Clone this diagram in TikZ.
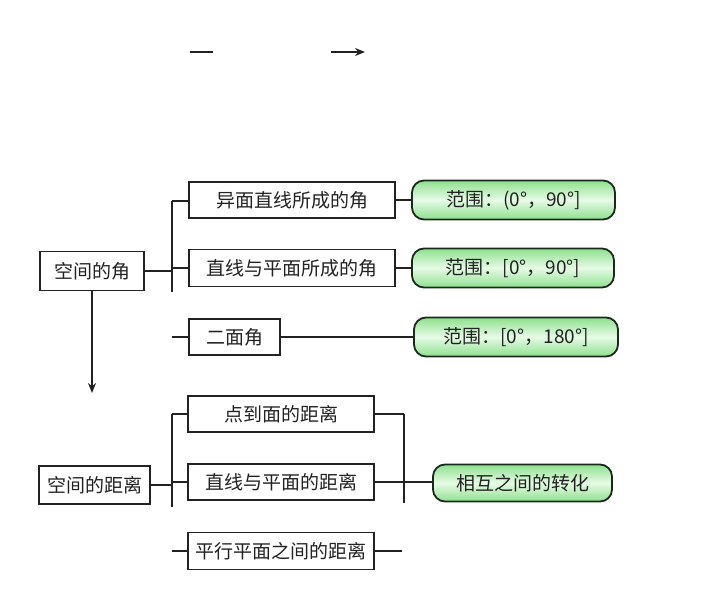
\documentclass[tikz,border=0pt]{standalone}
\usepackage{fontspec}
\usepackage{xcolor}
\usepackage{tikz}
\usetikzlibrary{arrows.meta}
\newfontfamily\cjk{Noto Sans CJK SC}
\definecolor{ink}{HTML}{222222}
\definecolor{edge}{HTML}{1A2A1A}
\definecolor{leaf}{HTML}{8EE08E}
\definecolor{leaflt}{HTML}{E6FBE6}
\tikzset{
  link/.style={draw=ink, line width=1.5pt},
  box/.style={draw=ink, line width=1.2pt, fill=white, inner sep=0pt,
    minimum height=36pt, font=\cjk\fontsize{19}{19}\selectfont, text=ink},
  rng/.style={draw=edge, line width=1.8pt, rounded corners=12pt, inner sep=0pt,
    minimum height=38pt, top color=leaf, bottom color=leaf, middle color=leaflt,
    font=\cjk\fontsize{19}{19}\selectfont, text=ink},
}
\begin{document}
\begin{tikzpicture}[x=1pt, y=-1pt]
  \useasboundingbox (0,0) rectangle (717,605);
  % top strokes
  \coordinate (t1a) at (190,52); \coordinate (t1b) at (213,52);
  \coordinate (t2a) at (331,52); \coordinate (t2b) at (365,52);
  \draw[link] (t1a) -- (t1b);
  \draw[link, -{Stealth[length=10pt, width=8pt]}] (t2a) -- (t2b);

  % angles
  \node[box, minimum width=104pt, minimum height=39pt] (jiao) at (92,271) {空间的角};
  \node[box, minimum width=206pt] (a1) at (292,200) {异面直线所成的角};
  \node[box, minimum width=206pt, minimum height=37pt] (a2) at (292,268) {直线与平面所成的角};
  \node[box, minimum width=91pt] (a3) at (234.5,337) {二面角};
  \node[rng, minimum width=203pt, minimum height=39pt] (r1) at (513.5,200) {范围：(0°，90°]};
  \node[rng, minimum width=202pt, minimum height=39pt] (r2) at (513,268) {范围：[0°，90°]};
  \node[rng, minimum width=204pt, minimum height=39pt] (r3) at (516,337) {范围：[0°，180°]};
  \coordinate (ba1) at (172,201); \coordinate (ba2) at (172,292);
  \coordinate (ta3) at (172,337);
  \draw[link] (ba1) -- (ba2);
  \draw[link] (jiao.east) -- (jiao.east -| ba1);
  \draw[link] (ba1) -- (ba1 -| a1.west);
  \draw[link] (a2.west -| ba1) -- (a2.west);
  \draw[link] (ta3) -- (a3.west);
  \draw[link] (a1.east) -- (r1.west);
  \draw[link] (a2.east) -- (r2.west);
  \draw[link] (a3.east) -- (r3.west);

  % distances
  \coordinate (down) at (92,393);
  \draw[link, -{Stealth[length=10pt, width=8pt]}] (jiao.south) -- (down);
  \node[box, minimum width=111pt, minimum height=38pt] (juli) at (94.5,485) {空间的距离};
  \node[box, minimum width=186pt] (d1) at (281,414) {点到面的距离};
  \node[box, minimum width=186pt] (d2) at (281,482) {直线与平面的距离};
  \node[box, minimum width=186pt, minimum height=37pt] (d3) at (281,551) {平行平面之间的距离};
  \node[rng, minimum width=179pt, minimum height=37pt] (r4) at (522.5,483) {相互之间的转化};
  \coordinate (bb1) at (172,414); \coordinate (bb2) at (172,507);
  \coordinate (bc1) at (404,414); \coordinate (bc2) at (404,503);
  \coordinate (td3l) at (172,551); \coordinate (td3r) at (402,551);
  \draw[link] (bb1) -- (bb2);
  \draw[link] (juli.east) -- (juli.east -| bb1);
  \draw[link] (bb1) -- (d1.west);
  \draw[link] (d2.west -| bb1) -- (d2.west);
  \draw[link] (td3l) -- (d3.west);
  \draw[link] (d3.east) -- (td3r);
  \draw[link] (bc1) -- (bc2);
  \draw[link] (d1.east) -- (bc1);
  \draw[link] (d2.east) -- (d2.east -| r4.west);
\end{tikzpicture}
\end{document}
